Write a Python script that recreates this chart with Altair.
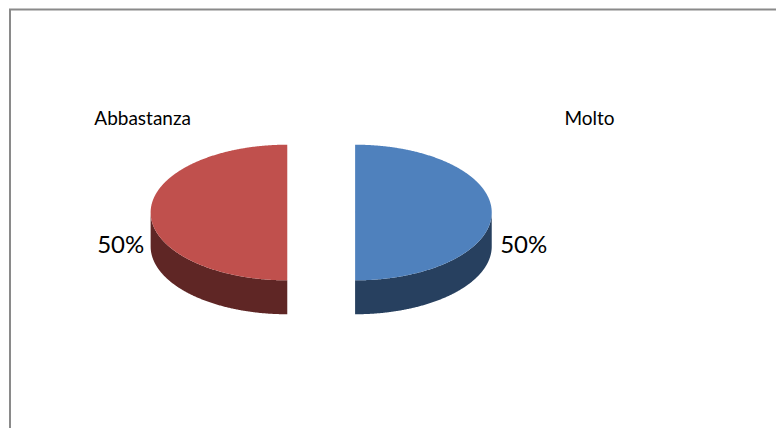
import altair as alt
import numpy as np
import pandas as pd

# ---- data ----
categories = ["Molto", "Abbastanza"]
values = [50, 50]
top_colors = ["#4F81BD", "#C0504D"]
side_colors = ["#27405F", "#5F2625"]

# ---- layout constants (page pixels) ----
CX, CY = 321, 213          # pie centre
RX, RY = 137, 68           # ellipse radii of the top face
DEPTH = 34                 # thickness of the pie
EXPLODE = 34               # slice explosion distance
name_pos = {"Molto": (590, 119), "Abbastanza": (142, 119)}
pct_pos = {"Molto": (524, 247), "Abbastanza": (120, 247)}

W, H = 768, 420

total = float(sum(values))
shape_rows = []
label_rows = []
pct_rows = []
start = 0.0
t = np.linspace(0, np.pi / 2, 241)
for cat, v in zip(categories, values):
    frac = v / total
    mid = (start + frac / 2) * 2 * np.pi     # clockwise from 12 o'clock
    side = 1.0 if np.sin(mid) >= 0 else -1.0
    cxs = CX + EXPLODE * np.sin(mid)
    xs = cxs + side * RX * np.sin(t)
    hs = RY * np.cos(t)
    for x, h in zip(xs, hs):
        shape_rows.append({"x": x, "y": CY + h, "y2": CY + h + DEPTH, "part": cat + " side"})
        shape_rows.append({"x": x, "y": CY - h, "y2": CY + h, "part": cat + " top"})
    label_rows.append({"x": name_pos[cat][0], "y": name_pos[cat][1], "text": cat})
    pct_rows.append({"x": pct_pos[cat][0], "y": pct_pos[cat][1], "text": f"{round(frac * 100):.0f}%"})
    start += frac

shapes = pd.DataFrame(shape_rows)
parts = [c + " side" for c in categories] + [c + " top" for c in categories]
part_colors = side_colors + top_colors

xs_scale = alt.Scale(domain=[8, 8 + W], nice=False, zero=False)
ys_scale = alt.Scale(domain=[8, 8 + H], nice=False, zero=False, reverse=True)

pie = alt.Chart(shapes).mark_area(interpolate="linear", strokeWidth=0).encode(
    x=alt.X("x:Q", scale=xs_scale, axis=None),
    y=alt.Y("y:Q", scale=ys_scale, axis=None, stack=None),
    y2="y2:Q",
    color=alt.Color("part:N", scale=alt.Scale(domain=parts, range=part_colors), legend=None),
)

names = alt.Chart(pd.DataFrame(label_rows)).mark_text(
    font="Lato", fontSize=19, color="#000000", align="center", baseline="middle"
).encode(
    x=alt.X("x:Q", scale=xs_scale, axis=None),
    y=alt.Y("y:Q", scale=ys_scale, axis=None),
    text="text:N",
)

pcts = alt.Chart(pd.DataFrame(pct_rows)).mark_text(
    font="Lato", fontSize=24, color="#000000", align="center", baseline="middle"
).encode(
    x=alt.X("x:Q", scale=xs_scale, axis=None),
    y=alt.Y("y:Q", scale=ys_scale, axis=None, ),
    text="text:N",
)

one = alt.Data(values=[{}])
top_border = alt.Chart(one).mark_rule(color="#8A8A8A", strokeWidth=2).encode(
    x=alt.value(0), x2=alt.value(W), y=alt.value(1.5)
)
left_border = alt.Chart(one).mark_rule(color="#8A8A8A", strokeWidth=2).encode(
    x=alt.value(1), y=alt.value(1.5), y2=alt.value(H)
)

chart = alt.layer(pie, names, pcts, top_border, left_border).properties(
    width=W, height=H, padding=0,
    autosize=alt.AutoSizeParams(type="fit", contains="padding"),
).configure_view(stroke=None)

chart.save("out.html", embed_options={"renderer": "svg", "actions": False})
